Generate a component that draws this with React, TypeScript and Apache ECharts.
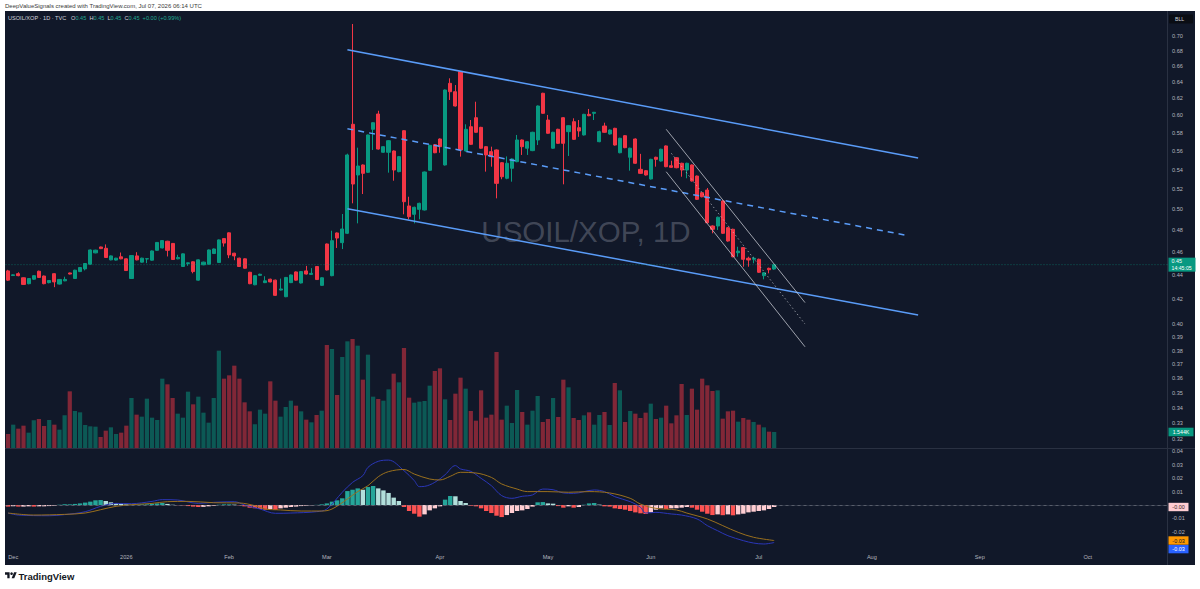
import React, { useEffect, useRef } from "react";
import * as echarts from "echarts";

// ---------- calendar ----------
const HOLIDAYS = ["2025-12-25", "2026-01-01", "2026-01-19", "2026-02-16", "2026-04-03", "2026-05-25", "2026-06-19", "2026-07-03", "2026-09-07"];
const DAY_COUNT = 226;
const MONTH_NAMES = ["Jan", "Feb", "Mar", "Apr", "May", "Jun", "Jul", "Aug", "Sep", "Oct", "Nov", "Dec"];

function buildTradingDays(): string[] {
  const out: string[] = [];
  const d = new Date(Date.UTC(2025, 10, 28));
  while (out.length < DAY_COUNT) {
    const wd = d.getUTCDay();
    const s = d.toISOString().slice(0, 10);
    if (wd !== 0 && wd !== 6 && HOLIDAYS.indexOf(s) < 0) out.push(s);
    d.setUTCDate(d.getUTCDate() + 1);
  }
  return out;
}
const DAYS = buildTradingDays();

// ---------- price data (USOIL/XOP, daily) ----------
const OPEN = [0.4436,0.4396,0.4412,0.4377,0.4327,0.4365,0.4433,0.4392,0.4336,0.4412,0.4324,0.4351,0.4418,0.4371,0.4430,0.4453,0.4494,0.4594,0.4647,0.4635,0.4532,0.4530,0.4559,0.4541,0.4371,0.4567,0.4512,0.4540,0.4529,0.4617,0.4638,0.4699,0.4679,0.4541,0.4474,0.4500,0.4515,0.4357,0.4489,0.4494,0.4588,0.4509,0.4723,0.4776,0.4591,0.4547,0.4541,0.4424,0.4318,0.4398,0.4336,0.4365,0.4357,0.4274,0.4219,0.4336,0.4427,0.4333,0.4436,0.4406,0.4474,0.4313,0.4674,0.4395,0.4775,0.4686,0.4772,0.5897,0.5344,0.5449,0.5372,0.5840,0.6016,0.5585,0.5585,0.5599,0.5379,0.5824,0.5032,0.4951,0.4999,0.4993,0.5393,0.5668,0.5731,0.5449,0.6385,0.6282,0.6531,0.5599,0.5869,0.5973,0.5862,0.5646,0.5592,0.5610,0.5473,0.5310,0.5414,0.5484,0.5720,0.5629,0.5603,0.5720,0.6263,0.5946,0.5629,0.5840,0.5973,0.5813,0.5927,0.5858,0.5776,0.6012,0.6024,0.5701,0.5877,0.5787,0.5851,0.5580,0.5768,0.5531,0.5731,0.5403,0.5389,0.5303,0.5531,0.5491,0.5654,0.5441,0.5526,0.5467,0.5396,0.5449,0.5333,0.5163,0.5190,0.4840,0.4840,0.5081,0.4824,0.4809,0.4595,0.4641,0.4546,0.4537,0.4537,0.4395,0.4458,0.4452];
const CLOSE = [0.4357,0.4402,0.4395,0.4321,0.4371,0.4395,0.4380,0.4327,0.4354,0.4342,0.4363,0.4363,0.4409,0.4442,0.4465,0.4500,0.4620,0.4618,0.4632,0.4553,0.4567,0.4547,0.4541,0.4439,0.4570,0.4532,0.4547,0.4542,0.4611,0.4688,0.4705,0.4617,0.4535,0.4553,0.4585,0.4506,0.4430,0.4532,0.4512,0.4620,0.4629,0.4711,0.4682,0.4576,0.4567,0.4474,0.4459,0.4327,0.4395,0.4407,0.4351,0.4342,0.4230,0.4283,0.4380,0.4401,0.4357,0.4430,0.4409,0.4415,0.4362,0.4377,0.4444,0.4704,0.4728,0.4812,0.5556,0.5251,0.5438,0.5361,0.5776,0.5915,0.5620,0.5646,0.5712,0.5396,0.5538,0.5074,0.4928,0.5019,0.5058,0.5375,0.5661,0.5580,0.5646,0.6303,0.6282,0.6110,0.5610,0.5840,0.5672,0.5806,0.5629,0.5556,0.5538,0.5258,0.5326,0.5467,0.5513,0.5720,0.5646,0.5701,0.5806,0.6110,0.6024,0.5795,0.5806,0.5683,0.5683,0.5881,0.5727,0.5821,0.6012,0.5996,0.6036,0.5813,0.5806,0.5832,0.5664,0.5739,0.5635,0.5629,0.5467,0.5361,0.5344,0.5509,0.5509,0.5618,0.5431,0.5424,0.5420,0.5396,0.5467,0.5282,0.5097,0.5123,0.4871,0.4809,0.4923,0.4772,0.4701,0.4560,0.4610,0.4537,0.4531,0.4546,0.4424,0.4420,0.4446,0.4490];
const HIGH = [0.4445,0.4406,0.4424,0.4380,0.4375,0.4399,0.4438,0.4396,0.4358,0.4415,0.4366,0.4386,0.4421,0.4446,0.4469,0.4504,0.4624,0.4622,0.4650,0.4670,0.4571,0.4550,0.4597,0.4545,0.4574,0.4600,0.4551,0.4545,0.4615,0.4692,0.4710,0.4703,0.4683,0.4577,0.4589,0.4509,0.4519,0.4536,0.4516,0.4624,0.4633,0.4715,0.4727,0.4780,0.4595,0.4551,0.4545,0.4428,0.4399,0.4412,0.4390,0.4369,0.4361,0.4370,0.4384,0.4405,0.4431,0.4434,0.4479,0.4460,0.4478,0.4381,0.4678,0.4796,0.4780,0.4954,0.5570,0.7165,0.5635,0.5455,0.5780,0.5920,0.6054,0.5652,0.5718,0.5605,0.5545,0.5830,0.5123,0.5025,0.5064,0.5380,0.5667,0.5674,0.5737,0.6309,0.6448,0.6364,0.6537,0.5897,0.5946,0.6161,0.5868,0.5652,0.5646,0.5616,0.5480,0.5540,0.5520,0.5776,0.5726,0.5707,0.5812,0.6116,0.6269,0.6005,0.5812,0.5846,0.5979,0.5887,0.5966,0.5946,0.6018,0.6075,0.6040,0.5824,0.5915,0.5838,0.5857,0.5745,0.5774,0.5635,0.5737,0.5568,0.5395,0.5515,0.5537,0.5624,0.5660,0.5494,0.5532,0.5473,0.5473,0.5455,0.5339,0.5169,0.5211,0.4846,0.4929,0.5087,0.4830,0.4815,0.4649,0.4647,0.4560,0.4560,0.4543,0.4426,0.4464,0.4496];
const LOW = [0.4350,0.4392,0.4390,0.4318,0.4322,0.4360,0.4376,0.4322,0.4330,0.4298,0.4320,0.4348,0.4406,0.4367,0.4426,0.4440,0.4490,0.4590,0.4628,0.4549,0.4528,0.4526,0.4537,0.4435,0.4367,0.4528,0.4508,0.4503,0.4525,0.4613,0.4634,0.4562,0.4531,0.4537,0.4470,0.4480,0.4415,0.4353,0.4485,0.4490,0.4584,0.4505,0.4650,0.4547,0.4529,0.4470,0.4455,0.4323,0.4314,0.4394,0.4332,0.4338,0.4226,0.4270,0.4215,0.4332,0.4353,0.4329,0.4405,0.4402,0.4358,0.4309,0.4440,0.4390,0.4638,0.4628,0.4765,0.5058,0.4865,0.5150,0.5366,0.5610,0.5614,0.5580,0.5368,0.5285,0.5372,0.4951,0.4903,0.4865,0.4903,0.4988,0.5388,0.5575,0.5580,0.5443,0.6182,0.6104,0.5538,0.5593,0.5666,0.5800,0.5623,0.5379,0.5431,0.5107,0.5300,0.5300,0.5275,0.5478,0.5556,0.5556,0.5597,0.5664,0.6018,0.5790,0.5623,0.5677,0.5248,0.5545,0.5721,0.5755,0.5770,0.5990,0.5946,0.5695,0.5800,0.5780,0.5658,0.5574,0.5629,0.5389,0.5461,0.5355,0.5338,0.5297,0.5431,0.5485,0.5425,0.5418,0.5414,0.5326,0.5310,0.5276,0.5091,0.5117,0.4865,0.4772,0.4803,0.4766,0.4695,0.4554,0.4560,0.4472,0.4472,0.4502,0.4418,0.4364,0.4415,0.4446];
const VOLUME = [42,70,58,67,46,83,87,66,84,70,55,98,170,111,107,69,65,64,33,52,62,42,46,67,150,100,94,148,91,84,208,191,150,103,91,169,131,154,106,76,150,292,208,218,247,208,137,110,71,115,103,200,142,94,123,142,127,110,85,77,99,112,309,297,159,273,320,327,307,205,280,154,147,142,176,223,197,300,151,136,139,141,187,231,239,146,84,163,211,178,111,82,173,91,100,288,85,127,75,174,108,70,112,156,78,87,150,93,205,182,90,84,98,107,70,99,108,69,195,173,78,111,103,90,106,133,87,91,127,74,98,192,99,178,115,208,188,171,173,88,110,112,79,90,85,78,70,62,49,48];
const VOLUME_LABEL = "1.544K";
const COUNTDOWN = "14:45:05";

// ---------- MACD (12, 26, 9) ----------
const HIST = [-0.0012,-0.0010,-0.0012,-0.0012,-0.0010,-0.0012,-0.0010,-0.0010,-0.0008,-0.0005,0.0002,0.0005,0.0005,0.0008,0.0012,0.0018,0.0025,0.0035,0.0037,0.0030,0.0020,0.0015,0.0010,0.0005,0.0002,0.0002,0.0005,0.0005,0.0008,0.0012,0.0015,0.0008,0.0002,-0.0001,-0.0002,-0.0008,-0.0012,-0.0015,-0.0014,-0.0010,-0.0005,0.0002,0.0005,0.0005,0.0003,-0.0002,-0.0010,-0.0020,-0.0025,-0.0030,-0.0035,-0.0030,-0.0036,-0.0025,-0.0020,-0.0015,-0.0012,-0.0008,-0.0005,-0.0002,0.0001,0.0005,0.0012,0.0025,0.0035,0.0050,0.0104,0.0114,0.0124,0.0114,0.0134,0.0142,0.0124,0.0109,0.0090,0.0055,0.0030,-0.0015,-0.0045,-0.0065,-0.0087,-0.0070,-0.0040,-0.0025,-0.0010,0.0040,0.0067,0.0065,0.0030,0.0015,-0.0005,-0.0010,-0.0025,-0.0045,-0.0060,-0.0080,-0.0090,-0.0075,-0.0060,-0.0045,-0.0040,-0.0030,-0.0012,0.0020,0.0022,0.0012,0.0010,-0.0008,-0.0020,-0.0010,-0.0020,-0.0015,0.0002,0.0012,0.0015,0.0003,-0.0010,-0.0012,-0.0025,-0.0030,-0.0035,-0.0045,-0.0055,-0.0062,-0.0067,-0.0055,-0.0035,-0.0025,-0.0030,-0.0025,-0.0024,-0.0020,-0.0015,-0.0020,-0.0035,-0.0050,-0.0065,-0.0075,-0.0070,-0.0076,-0.0070,-0.0077,-0.0070,-0.0065,-0.0055,-0.0050,-0.0045,-0.0040,-0.0030,-0.0015];
const MACD_POINTS = [[0,-0.0060],[2,-0.0075],[8,-0.0080],[11,-0.0072],[15,-0.0050],[18,-0.0010],[21,0.0012],[24,0.0010],[28,0.0027],[30,0.0040],[33,0.0037],[37,0.0012],[40,0.0020],[44,0.0025],[46,0.0000],[49,-0.0030],[52,-0.0062],[55,-0.0060],[60,-0.0050],[62,-0.0030],[65,0.0095],[67,0.0169],[69,0.0219],[70,0.0281],[72,0.0326],[74,0.0335],[77,0.0256],[79,0.0182],[80,0.0137],[81,0.0139],[83,0.0169],[85,0.0226],[87,0.0294],[88,0.0269],[90,0.0251],[92,0.0199],[94,0.0144],[96,0.0070],[98,0.0050],[100,0.0065],[102,0.0075],[104,0.0119],[106,0.0114],[108,0.0090],[110,0.0087],[114,0.0112],[116,0.0100],[118,0.0062],[121,0.0025],[123,-0.0017],[124,-0.0060],[126,-0.0055],[129,-0.0067],[131,-0.0075],[134,-0.0104],[136,-0.0154],[138,-0.0192],[140,-0.0229],[143,-0.0266],[145,-0.0284],[147,-0.0291],[149,-0.0280]];
const SIGNAL_POINTS = [[0,-0.0060],[5,-0.0075],[11,-0.0070],[15,-0.0060],[18,-0.0035],[21,-0.0010],[24,0.0002],[28,0.0012],[31,0.0025],[35,0.0027],[40,0.0017],[45,0.0015],[48,-0.0005],[50,-0.0030],[53,-0.0037],[57,-0.0045],[61,-0.0045],[63,-0.0030],[66,0.0045],[68,0.0100],[70,0.0144],[72,0.0211],[74,0.0249],[77,0.0265],[79,0.0231],[82,0.0194],[84,0.0187],[86,0.0214],[88,0.0244],[91,0.0239],[94,0.0206],[96,0.0157],[99,0.0119],[101,0.0100],[105,0.0100],[109,0.0095],[113,0.0100],[117,0.0090],[121,0.0050],[123,0.0007],[126,-0.0025],[130,-0.0037],[132,-0.0060],[136,-0.0104],[139,-0.0154],[142,-0.0204],[145,-0.0241],[149,-0.0265]];

// ---------- drawings (bar index, price) ----------
const CHANNEL_UPPER = [[66, 0.6815], [177, 0.5523]];
const CHANNEL_MID = [[66, 0.5846], [175, 0.4751]];
const CHANNEL_LOWER = [[66, 0.5004], [177, 0.4072]];
const FAST_UPPER = [[128, 0.5840], [155, 0.4171]];
const FAST_MID = [[129, 0.5574], [155, 0.4001]];
const FAST_LOWER = [[128, 0.5378], [155, 0.3828]];

// ---------- scale ticks ----------
const PRICE_TICKS = [0.70,0.68,0.66,0.64,0.62,0.60,0.58,0.56,0.54,0.52,0.50,0.48,0.46,0.44,0.42,0.40,0.39,0.38,0.37,0.36,0.35,0.34,0.33,0.32];
const MACD_TICKS = [0.04,0.03,0.02,0.01,-0.01,-0.02];

const FONT = "'Liberation Sans', Arial, sans-serif";
const BG = "#111829";
const SEP = "#2a3142";
const AXIS_TEXT = "#b2b5be";
const UP = "#089981";
const DOWN = "#f23645";
const LAST = CLOSE.length - 1;

const TV_LOGO = "M14 22H7V11H0V4h14v18zM28 22h-8l7.5-18h8L28 22z";
let logoRegistered = false;
function registerLogo() {
  if (logoRegistered) return;
  echarts.graphic.registerShape("tvlogo", echarts.graphic.extendPath(TV_LOGO, {}));
  logoRegistered = true;
}

function isMonthStart(i: number): boolean {
  return i > 0 && DAYS[i].slice(0, 7) !== DAYS[i - 1].slice(0, 7);
}
function monthLabel(v: string): string {
  const m = Number(v.slice(5, 7)) - 1;
  return m === 0 ? v.slice(0, 4) : MONTH_NAMES[m];
}
function histColor(i: number): string {
  const h = HIST[i];
  const p = i > 0 ? HIST[i - 1] : 0;
  if (h >= 0) return h >= p ? "#26a69a" : "#b2dfdb";
  return h < p ? "#ff5252" : "#ffcdd2";
}

function lineSeries(data: number[][], color: string, width: number, type: any) {
  return {
    type: "line",
    xAxisIndex: 0,
    yAxisIndex: 0,
    data,
    showSymbol: false,
    symbol: "none",
    silent: true,
    z: 5,
    lineStyle: { color, width, type },
  };
}

function buildOption(): any {
  const candleData = OPEN.map((o, i) => [o, CLOSE[i], LOW[i], HIGH[i]]);
  const volData = VOLUME.map((v, i) => ({
    value: v,
    itemStyle: { color: CLOSE[i] >= OPEN[i] ? "rgba(8,153,129,0.5)" : "rgba(242,54,69,0.5)" },
  }));
  const histData = HIST.map((h, i) => ({ value: h, itemStyle: { color: histColor(i) } }));
  const macdLast = MACD_POINTS[MACD_POINTS.length - 1][1];
  const signalLast = SIGNAL_POINTS[SIGNAL_POINTS.length - 1][1];

  const smallText = (text: string, x: number, y: number, fill: string, size: number, align = "left", weight: any = "normal") => ({
    type: "text",
    x,
    y,
    style: { text, fill, fontSize: size, fontFamily: FONT, fontWeight: weight, align, verticalAlign: "middle" },
  });

  return {
    animation: false,
    backgroundColor: "#ffffff",
    textStyle: { fontFamily: FONT },
    grid: [
      { left: 5.5, top: 11, width: 1162, height: 437 },
      { left: 5.5, top: 449, width: 1162, height: 101 },
    ],
    xAxis: [
      {
        type: "category", gridIndex: 0, data: DAYS, boundaryGap: true,
        axisLine: { show: false }, axisTick: { show: false }, axisLabel: { show: false }, splitLine: { show: false },
      },
      {
        type: "category", gridIndex: 1, data: DAYS, boundaryGap: true,
        axisLine: { show: true, lineStyle: { color: SEP, width: 1 } },
        axisTick: { show: false },
        splitLine: { show: false },
        axisLabel: {
          interval: (i: number) => isMonthStart(i),
          formatter: (v: string) => monthLabel(v),
          color: AXIS_TEXT, fontSize: 5.6, fontFamily: FONT, margin: 4,
        },
      },
    ],
    yAxis: [
      {
        type: "log", gridIndex: 0, logBase: 10, min: 0.3145, max: 0.7348,
        axisLine: { show: false }, axisTick: { show: false }, axisLabel: { show: false }, splitLine: { show: false },
      },
      { type: "value", gridIndex: 0, min: 0, max: 1311, show: false, splitLine: { show: false } },
      {
        type: "value", gridIndex: 1, min: -0.03358, max: 0.04179,
        axisLine: { show: false }, axisTick: { show: false }, axisLabel: { show: false }, splitLine: { show: false },
      },
    ],
    graphic: [
      { type: "rect", z: -10, shape: { x: 5, y: 11, width: 1190, height: 554 }, style: { fill: BG } },
      { type: "line", shape: { x1: 1167.5, y1: 11, x2: 1167.5, y2: 565 }, style: { stroke: SEP, lineWidth: 1 } },
      { type: "line", shape: { x1: 5, y1: 448.5, x2: 1195, y2: 448.5 }, style: { stroke: SEP, lineWidth: 1 } },
      {
        type: "text", x: 586, y: 231,
        style: { text: "USOIL/XOP, 1D", fill: "rgba(125,130,145,0.45)", fontSize: 29.5, fontFamily: FONT, align: "center", verticalAlign: "middle" },
      },
      smallText("DeepValueSignals created with TradingView.com, Jul 07, 2026 06:14 UTC", 5, 5.5, "#3a3a3a", 6),
      {
        type: "text", x: 8, y: 18,
        style: {
          text: "{w|USOIL/XOP · 1D · TVC}   {w|O}{g|0.45}  {w|H}{g|0.45}  {w|L}{g|0.45}  {w|C}{g|0.45}  {g|+0.00 (+0.99%)}",
          fontFamily: FONT, fontSize: 5.6, verticalAlign: "middle", align: "left",
          rich: {
            w: { fill: "#d1d4dc", fontSize: 5.6, fontFamily: FONT },
            g: { fill: "#22ab94", fontSize: 5.6, fontFamily: FONT },
          },
        },
      },
      { type: "rect", shape: { x: 1169, y: 14.5, width: 24, height: 9, r: 1 }, style: { fill: "#0a0d14" } },
      smallText("BLL", 1175, 19, "#d1d4dc", 5.2),
      { type: "tvlogo", x: 5, y: 571, scaleX: 0.33, scaleY: 0.33, style: { fill: "#131722" } },
      { type: "circle", shape: { cx: 5 + 20 * 0.33, cy: 571 + 8 * 0.33, r: 4 * 0.33 }, style: { fill: "#131722" } },
      smallText("TradingView", 18.5, 576.5, "#131722", 9.5, "left", 600),
    ],
    series: [
      {
        name: "Volume", type: "bar", xAxisIndex: 0, yAxisIndex: 1, data: volData,
        barWidth: "82%", silent: true, z: 1,
      },
      {
        name: "USOIL/XOP", type: "candlestick", xAxisIndex: 0, yAxisIndex: 0, data: candleData,
        barWidth: "70%", silent: true, z: 3,
        itemStyle: { color: UP, color0: DOWN, borderColor: UP, borderColor0: DOWN, borderWidth: 1 },
      },
      lineSeries(CHANNEL_UPPER, "#5a9cf8", 1.5, "solid"),
      lineSeries(CHANNEL_MID, "#5a9cf8", 1.5, [6, 5]),
      lineSeries(CHANNEL_LOWER, "#5a9cf8", 1.5, "solid"),
      lineSeries(FAST_UPPER, "rgba(205,208,216,0.75)", 1, "solid"),
      lineSeries(FAST_MID, "rgba(190,193,200,0.7)", 1, [1.5, 2.5]),
      lineSeries(FAST_LOWER, "rgba(205,208,216,0.75)", 1, "solid"),
      {
        name: "priceScale", type: "custom", xAxisIndex: 0, yAxisIndex: 0, clip: false, silent: true, z: 8,
        data: PRICE_TICKS.map((v) => [0, v]),
        encode: { x: 0, y: 1 },
        renderItem: (params: any, api: any) => {
          const cs = params.coordSys;
          const v = api.value(1);
          const y = api.coord([0, v])[1];
          return {
            type: "text", x: cs.x + cs.width + 4.5, y,
            style: { text: Number(v).toFixed(2), fill: AXIS_TEXT, fontSize: 5.6, fontFamily: FONT, align: "left", verticalAlign: "middle" },
          };
        },
      },
      {
        name: "lastPrice", type: "custom", xAxisIndex: 0, yAxisIndex: 0, clip: false, silent: true, z: 9,
        data: [[LAST, CLOSE[LAST]]],
        encode: { x: 0, y: 1 },
        renderItem: (params: any, api: any) => {
          const cs = params.coordSys;
          const y = api.coord([api.value(0), api.value(1)])[1];
          const x0 = cs.x + cs.width + 1;
          return {
            type: "group",
            children: [
              { type: "line", shape: { x1: cs.x, y1: y, x2: cs.x + cs.width, y2: y }, style: { stroke: "rgba(8,153,129,0.55)", lineWidth: 1, lineDash: [1, 2] } },
              { type: "rect", shape: { x: x0, y: y - 7, width: 27, height: 14 }, style: { fill: UP } },
              { type: "text", x: x0 + 3, y: y - 3.3, style: { text: Number(api.value(1)).toFixed(2), fill: "#ffffff", fontSize: 5.4, fontFamily: FONT, align: "left", verticalAlign: "middle" } },
              { type: "text", x: x0 + 3, y: y + 3.3, style: { text: COUNTDOWN, fill: "#ffffff", fontSize: 5.2, fontFamily: FONT, align: "left", verticalAlign: "middle" } },
            ],
          };
        },
      },
      {
        name: "lastVolume", type: "custom", xAxisIndex: 0, yAxisIndex: 1, clip: false, silent: true, z: 9,
        data: [[LAST, VOLUME[LAST]]],
        encode: { x: 0, y: 1 },
        renderItem: (params: any, api: any) => {
          const cs = params.coordSys;
          const y = api.coord([api.value(0), api.value(1)])[1];
          const x0 = cs.x + cs.width + 1;
          return {
            type: "group",
            children: [
              { type: "rect", shape: { x: x0, y: y - 4.3, width: 25, height: 8.6 }, style: { fill: UP } },
              { type: "text", x: x0 + 12.5, y, style: { text: VOLUME_LABEL, fill: "#ffffff", fontSize: 5.2, fontFamily: FONT, align: "center", verticalAlign: "middle" } },
            ],
          };
        },
      },
      {
        name: "Histogram", type: "bar", xAxisIndex: 1, yAxisIndex: 2, data: histData,
        barWidth: "86%", silent: true, z: 2,
        markLine: {
          silent: true, symbol: "none", label: { show: false },
          lineStyle: { color: "rgba(120,123,134,0.6)", type: [3, 3], width: 1 },
          data: [{ yAxis: 0 }],
        },
      },
      {
        name: "MACD", type: "line", xAxisIndex: 1, yAxisIndex: 2, data: MACD_POINTS,
        showSymbol: false, symbol: "none", smooth: 0.35, silent: true, z: 4,
        lineStyle: { color: "#2b37b8", width: 1 },
      },
      {
        name: "Signal", type: "line", xAxisIndex: 1, yAxisIndex: 2, data: SIGNAL_POINTS,
        showSymbol: false, symbol: "none", smooth: 0.35, silent: true, z: 4,
        lineStyle: { color: "#9a701e", width: 1 },
      },
      {
        name: "macdScale", type: "custom", xAxisIndex: 1, yAxisIndex: 2, clip: false, silent: true, z: 8,
        data: MACD_TICKS.map((v) => [0, v]),
        encode: { x: 0, y: 1 },
        renderItem: (params: any, api: any) => {
          const cs = params.coordSys;
          const v = api.value(1);
          const y = api.coord([0, v])[1];
          return {
            type: "text", x: cs.x + cs.width + 4.5, y,
            style: { text: Number(v).toFixed(2), fill: AXIS_TEXT, fontSize: 5.6, fontFamily: FONT, align: "left", verticalAlign: "middle" },
          };
        },
      },
      {
        name: "macdTags", type: "custom", xAxisIndex: 1, yAxisIndex: 2, clip: false, silent: true, z: 9,
        data: [[LAST, HIST[LAST]]],
        encode: { x: 0, y: 1 },
        renderItem: (params: any, api: any) => {
          const cs = params.coordSys;
          const x0 = cs.x + cs.width + 1;
          const yh = api.coord([LAST, HIST[LAST]])[1];
          const ys = api.coord([LAST, signalLast])[1];
          let ym = api.coord([LAST, macdLast])[1];
          if (Math.abs(ym - ys) < 8.6) ym = ys + 8.6;
          const tag = (y: number, bg: string, fg: string, txt: string) => [
            { type: "rect", shape: { x: x0, y: y - 4.2, width: 20, height: 8.4 }, style: { fill: bg } },
            { type: "text", x: x0 + 10, y, style: { text: txt, fill: fg, fontSize: 5.4, fontFamily: FONT, align: "center", verticalAlign: "middle" } },
          ];
          return {
            type: "group",
            children: [
              ...tag(yh, "#ffcdd2", "#3b1d22", HIST[LAST].toFixed(2)),
              ...tag(ys, "#ff9800", "#131722", signalLast.toFixed(2)),
              ...tag(ym, "#2962ff", "#ffffff", macdLast.toFixed(2)),
            ],
          };
        },
      },
    ],
  };
}

export default function App() {
  const ref = useRef<HTMLDivElement>(null);
  useEffect(() => {
    if (!ref.current) return;
    registerLogo();
    const chart = echarts.init(ref.current, null, { renderer: "svg" });
    chart.setOption(buildOption());
    return () => chart.dispose();
  }, []);
  return (
    <div
      ref={ref}
      style={{ position: "fixed", left: 0, top: 0, width: 1200, height: 589, background: "#ffffff" }}
    />
  );
}
